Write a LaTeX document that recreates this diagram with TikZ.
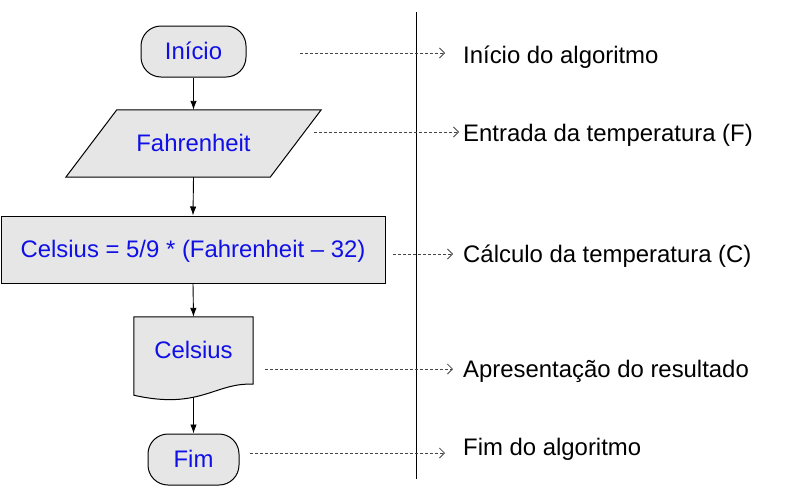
\documentclass[tikz,border=0pt]{standalone}
\usepackage{fontspec}
\setmainfont{Liberation Sans}
\usetikzlibrary{arrows.meta,calc,backgrounds}
\definecolor{boxfill}{RGB}{230,230,230}
\definecolor{txtblue}{RGB}{15,15,230}
\definecolor{dashgray}{RGB}{70,70,70}
\begin{document}
\begin{tikzpicture}[x=1pt,y=-1pt,
  font=\fontsize{23.9}{28}\selectfont,
  lbl/.style={anchor=base west, inner sep=0pt},
  txt/.style={text=txtblue, inner sep=0pt, text height=16pt, text depth=0pt},
  outline/.style={draw, line width=1pt, fill=boxfill},
  term/.style={txt, outline, rounded corners=20pt},
  proc/.style={txt, outline},
  flow/.style={-{Latex[length=9pt,width=6.5pt]}, line width=0.9pt},
  note/.style={densely dashed, line width=0.8pt, dashgray, -{Straight Barb[length=5pt,width=10pt]}}]
\useasboundingbox (0,0) rectangle (789,488);

% flowchart shapes
\node[term, minimum width=105pt, minimum height=51pt] (inicio) at (193.5,51.5) {Início};
\node[txt, minimum width=255pt, minimum height=67pt] (fahr) at (193.5,143.5) {Fahrenheit};
\begin{scope}[on background layer]
  \draw[outline] ([xshift=51pt]fahr.north west) -- (fahr.north east)
     -- ([xshift=-51pt]fahr.south east) -- (fahr.south west) -- cycle;
\end{scope}
\node[proc, minimum width=384pt, minimum height=67pt] (calc) at (193,249.5) {Celsius = 5/9 * (Fahrenheit – 32)};
\node[txt, minimum width=119pt, minimum height=67pt] (doc) at (193.5,350.5) {Celsius};
\begin{scope}[on background layer]
  \draw[outline] (doc.north west) -- (doc.north east) -- (doc.south east)
     .. controls ($(doc.south east)+(-38,-2)$) and ($(doc.south west)+(66,26)$) ..
     ($(doc.south west)+(0,11)$) -- cycle;
\end{scope}
\coordinate (docb) at ($(doc.south)+(0,13)$);
\node[term, minimum width=91pt, minimum height=51pt] (fim) at (193.5,459.5) {Fim};

% flow arrows
\draw[flow] (inicio.south) -- (fahr.north);
\draw[flow] (fahr.south) -- (calc.north);
\draw[flow] (calc.south) -- (doc.north);
\draw[flow] (docb) -- (fim.north);

% separator
\coordinate (sepT) at (416,12);
\coordinate (sepB) at (416,479);
\draw[line width=1pt] (sepT) -- (sepB);

% annotations
\node[lbl] (l1) at (463,63) {Início do algoritmo};
\node[lbl] (l2) at (463,141) {Entrada da temperatura (F)};
\node[lbl] (l3) at (463,262) {Cálculo da temperatura (C)};
\node[lbl] (l4) at (463,377) {Apresentação do resultado};
\node[lbl] (l5) at (463,455) {Fim do algoritmo};

\coordinate (a1s) at (300,53);  \coordinate (a1e) at (445,53);
\coordinate (a2s) at (314,132); \coordinate (a2e) at (459,132);
\coordinate (a3s) at (393,254); \coordinate (a3e) at (453,254);
\coordinate (a4s) at (265,369); \coordinate (a4e) at (453,369);
\coordinate (a5s) at (250,453); \coordinate (a5e) at (445,453);
\draw[note] (a1s) -- (a1e);
\draw[note] (a2s) -- (a2e);
\draw[note] (a3s) -- (a3e);
\draw[note] (a4s) -- (a4e);
\draw[note] (a5s) -- (a5e);
\end{tikzpicture}
\end{document}
